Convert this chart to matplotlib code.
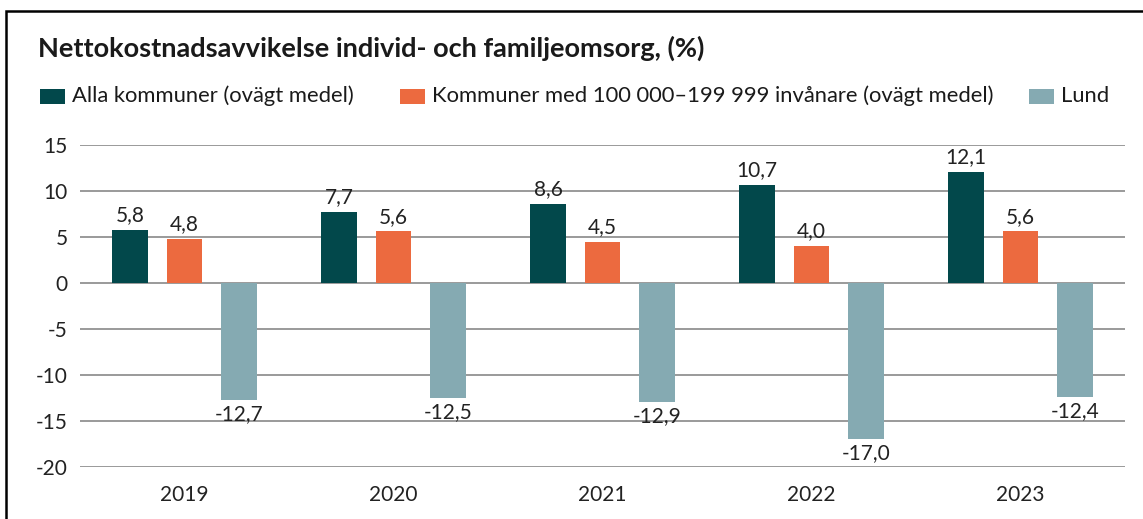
import matplotlib
matplotlib.use("Agg")
import matplotlib.pyplot as plt
from matplotlib.patches import Rectangle
import numpy as np

plt.rcParams['font.family'] = ['Lato', 'DejaVu Sans']

title = "Nettokostnadsavvikelse individ- och familjeomsorg, (%)"
years = ["2019", "2020", "2021", "2022", "2023"]
series_names = ["Alla kommuner (ovägt medel)",
                "Kommuner med 100 000–199 999 invånare (ovägt medel)",
                "Lund"]
alla = [5.8, 7.7, 8.6, 10.7, 12.1]
kommuner_100k = [4.8, 5.6, 4.5, 4.0, 5.6]
lund = [-12.7, -12.5, -12.9, -17.0, -12.4]
colors = ["#02484B", "#EC6A3F", "#85AAB2"]
yticks = [15, 10, 5, 0, -5, -10, -15, -20]

W, H = 1143, 519
fig = plt.figure(figsize=(W/100, H/100), dpi=100)
ax = fig.add_axes([80/W, 1-467/H, (1125-80)/W, (467-145)/H])

x = np.arange(len(years))
width = 0.172
step = 0.26
fs = 15
all_series = [alla, kommuner_100k, lund]
for i, (vals, col) in enumerate(zip(all_series, colors)):
    pos = x + (i-1)*step
    ax.bar(pos, vals, width=width, color=col, zorder=3)
    for px, v in zip(pos, vals):
        lab = f"{v:.1f}".replace(".", ",")
        if v >= 0:
            ax.annotate(lab, (px, v), xytext=(0, 3.5), textcoords="offset points",
                        ha="center", va="bottom", fontsize=fs, color="#222222", zorder=4)
        else:
            ax.annotate(lab, (px, v), xytext=(0, -3), textcoords="offset points",
                        ha="center", va="top", fontsize=fs, color="#222222", zorder=4)

ax.set_xlim(-0.5, len(years)-0.5)
ax.set_ylim(-20, 15)
ax.set_yticks(yticks)
ax.set_yticklabels([str(t) for t in yticks])
ax.set_xticks(x)
ax.set_xticklabels(years)
ax.tick_params(axis="both", length=0, labelsize=fs, colors="#222222")
ax.tick_params(axis="y", pad=9)
ax.tick_params(axis="x", pad=13)
ax.yaxis.grid(True, color="#7f7f7f", linewidth=1.1, zorder=0)
for s in ax.spines.values():
    s.set_visible(False)

# title
fig.text(38/W, 1-48/H, title, fontsize=19.5, fontweight="bold", ha="left", va="center", color="#1a1a1a")

# legend
leg_x = [40, 400, 1029]
for lx, name, col in zip(leg_x, series_names, colors):
    fig.patches.append(Rectangle((lx/W, 1-104/H), 25/W, 15/H, transform=fig.transFigure,
                                 facecolor=col, edgecolor="none"))
    fig.text((lx+32)/W, 1-96/H, name, fontsize=15.8, ha="left", va="center", color="#1a1a1a")

# border
fig.patches.append(Rectangle((6/W, -0.05), 1.2, 1-11/H+0.05, transform=fig.transFigure,
                             facecolor="none", edgecolor="black", linewidth=1.8, clip_on=False))

fig.savefig("out.png", dpi=100)
